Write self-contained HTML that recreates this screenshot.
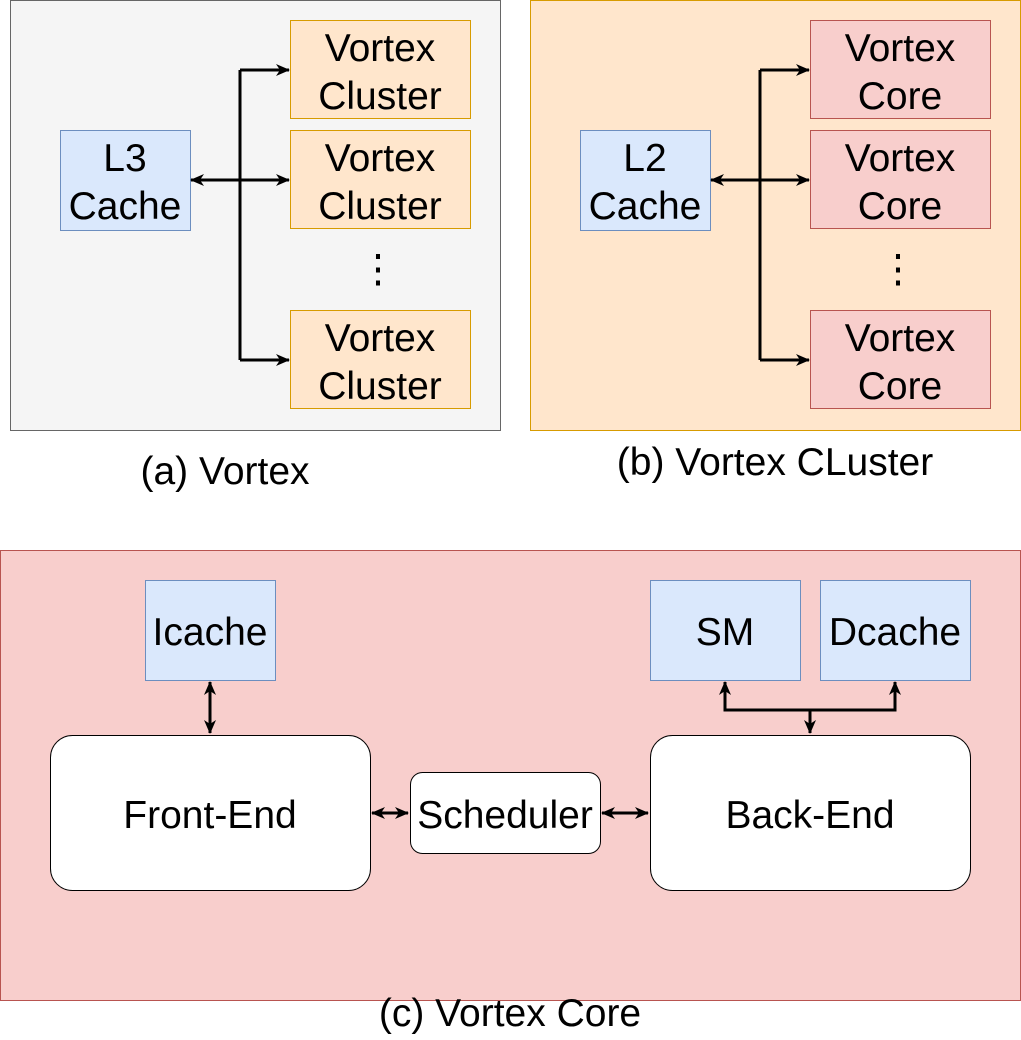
<!DOCTYPE html>
<html><head><meta charset="utf-8"><style>html,body{margin:0;padding:0;background:#fff}</style></head>
<body>
<svg width="1021" height="1035" viewBox="0 0 1021 1035" xmlns="http://www.w3.org/2000/svg" font-family="Liberation Sans, Arial, sans-serif">
<defs>
<marker id="ah" markerWidth="14" markerHeight="14" refX="13" refY="7" orient="auto-start-reverse" markerUnits="userSpaceOnUse">
<path d="M0,1 L14,7 L0,13 L4,7 Z" fill="#000"/>
</marker>
</defs>
<!-- Panel a -->
<rect x="10.5" y="0.5" width="490" height="430" fill="#f5f5f5" stroke="#666"/>
<rect x="60.5" y="130.5" width="130" height="100" fill="#dae8fc" stroke="#6c8ebf"/>
<g font-size="39" text-anchor="middle">
<text x="125" y="171">L3</text>
<text x="125" y="219">Cache</text>
</g>
<g fill="#ffe6cc" stroke="#d79b00">
<rect x="290.5" y="20.5" width="180" height="98"/>
<rect x="290.5" y="130.5" width="180" height="98"/>
<rect x="290.5" y="310.5" width="180" height="98"/>
</g>
<g font-size="39" text-anchor="middle">
<text x="380" y="61">Vortex</text><text x="380" y="109">Cluster</text>
<text x="380" y="171">Vortex</text><text x="380" y="219">Cluster</text>
<text x="380" y="351">Vortex</text><text x="380" y="399">Cluster</text>
<text x="378" y="282">⋮</text>
</g>
<g stroke="#000" stroke-width="3" fill="none">
<line x1="240" y1="70" x2="240" y2="360"/>
<line x1="240" y1="70" x2="289" y2="70" marker-end="url(#ah)"/>
<line x1="191" y1="180" x2="289" y2="180" marker-start="url(#ah)" marker-end="url(#ah)"/>
<line x1="240" y1="360" x2="289" y2="360" marker-end="url(#ah)"/>
</g>
<text x="225" y="484" font-size="39" text-anchor="middle">(a) Vortex</text>

<!-- Panel b -->
<rect x="530.5" y="0.5" width="490" height="430" fill="#ffe6cc" stroke="#d79b00"/>
<rect x="580.5" y="130.5" width="130" height="100" fill="#dae8fc" stroke="#6c8ebf"/>
<g font-size="39" text-anchor="middle">
<text x="645" y="171">L2</text>
<text x="645" y="219">Cache</text>
</g>
<g fill="#f8cecc" stroke="#b85450">
<rect x="810.5" y="20.5" width="180" height="98"/>
<rect x="810.5" y="130.5" width="180" height="98"/>
<rect x="810.5" y="310.5" width="180" height="98"/>
</g>
<g font-size="39" text-anchor="middle">
<text x="900" y="61">Vortex</text><text x="900" y="109">Core</text>
<text x="900" y="171">Vortex</text><text x="900" y="219">Core</text>
<text x="900" y="351">Vortex</text><text x="900" y="399">Core</text>
<text x="898" y="282">⋮</text>
</g>
<g stroke="#000" stroke-width="3" fill="none">
<line x1="760" y1="70" x2="760" y2="360"/>
<line x1="760" y1="70" x2="809" y2="70" marker-end="url(#ah)"/>
<line x1="711" y1="180" x2="809" y2="180" marker-start="url(#ah)" marker-end="url(#ah)"/>
<line x1="760" y1="360" x2="809" y2="360" marker-end="url(#ah)"/>
</g>
<text x="775" y="475" font-size="39" text-anchor="middle">(b) Vortex CLuster</text>

<!-- Panel c -->
<rect x="0.5" y="550.5" width="1020" height="450" fill="#f8cecc" stroke="#b85450"/>
<g fill="#dae8fc" stroke="#6c8ebf">
<rect x="145.5" y="580.5" width="130" height="100"/>
<rect x="650.5" y="580.5" width="150" height="100"/>
<rect x="820.5" y="580.5" width="150" height="100"/>
</g>
<g fill="#fff" stroke="#000">
<rect x="50.5" y="735.5" width="320" height="155" rx="22"/>
<rect x="410.5" y="772.5" width="190" height="81" rx="12"/>
<rect x="650.5" y="735.5" width="320" height="155" rx="22"/>
</g>
<g font-size="39" text-anchor="middle">
<text x="210" y="645">Icache</text>
<text x="725" y="645">SM</text>
<text x="895" y="645">Dcache</text>
<text x="210" y="828">Front-End</text>
<text x="505" y="828">Scheduler</text>
<text x="810" y="828">Back-End</text>
</g>
<g stroke="#000" stroke-width="3" fill="none">
<line x1="210" y1="682" x2="210" y2="733" marker-start="url(#ah)" marker-end="url(#ah)"/>
<line x1="372" y1="813" x2="408" y2="813" marker-start="url(#ah)" marker-end="url(#ah)"/>
<line x1="602" y1="813" x2="648" y2="813" marker-start="url(#ah)" marker-end="url(#ah)"/>
<polyline points="725,682 725,710 895,710 895,682" marker-start="url(#ah)" marker-end="url(#ah)"/>
<line x1="810" y1="710" x2="810" y2="733" marker-end="url(#ah)"/>
</g>
<text x="510" y="1026" font-size="39" text-anchor="middle">(c) Vortex Core</text>
</svg>
</body></html>
